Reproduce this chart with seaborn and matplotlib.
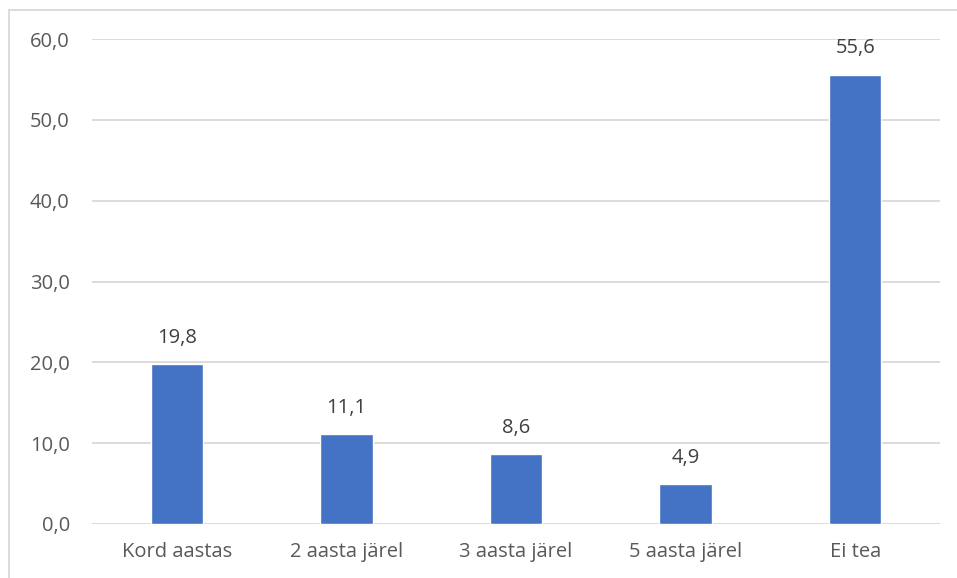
import matplotlib
matplotlib.use('Agg')
import matplotlib.pyplot as plt
import seaborn as sns
from matplotlib.patches import Rectangle

# Data
categories = ['Kord aastas', '2 aasta järel', '3 aasta järel', '5 aasta järel', 'Ei tea']
values = [19.8, 11.1, 8.6, 4.9, 55.6]
yticks = [0, 10, 20, 30, 40, 50, 60]

sns.set_style("white")
plt.rcParams['font.family'] = ['Open Sans', 'DejaVu Sans']

W, H = 957, 578
fig = plt.figure(figsize=(W / 100, H / 100), dpi=100)
ax = fig.add_axes([92 / W, 1 - 524 / H, (940 - 92) / W, (524 - 39) / H])

sns.barplot(x=categories, y=values, color='#4472C4', width=0.31,
            saturation=1, ax=ax, zorder=3)

ax.set_ylim(0, 60)
ax.set_xlim(-0.5, len(categories) - 0.5)
ax.set_yticks(yticks)
ax.set_yticklabels([f'{t:.1f}'.replace('.', ',') for t in yticks])
ax.grid(axis='y', color='#d9d9d9', linewidth=1.3, zorder=0)
ax.set_axisbelow(True)
for s in ax.spines.values():
    s.set_visible(False)
ax.tick_params(axis='both', length=0, labelsize=14.5, labelcolor='#595959')
ax.tick_params(axis='y', pad=16)
ax.tick_params(axis='x', pad=13)
ax.set_xlabel('')
ax.set_ylabel('')

for i, v in enumerate(values):
    ax.text(i, v + 2.0, f'{v:.1f}'.replace('.', ','), ha='center', va='bottom',
            fontsize=14.5, color='#404040')

# chart-area border (cropped at right/bottom)
fig.patches.append(Rectangle((9 / W, -0.1), 1.2, 1 - 10 / H + 0.1,
                             transform=fig.transFigure, fill=False,
                             edgecolor='#d9d9d9', linewidth=1.3))

plt.savefig('out.png', dpi=100)
